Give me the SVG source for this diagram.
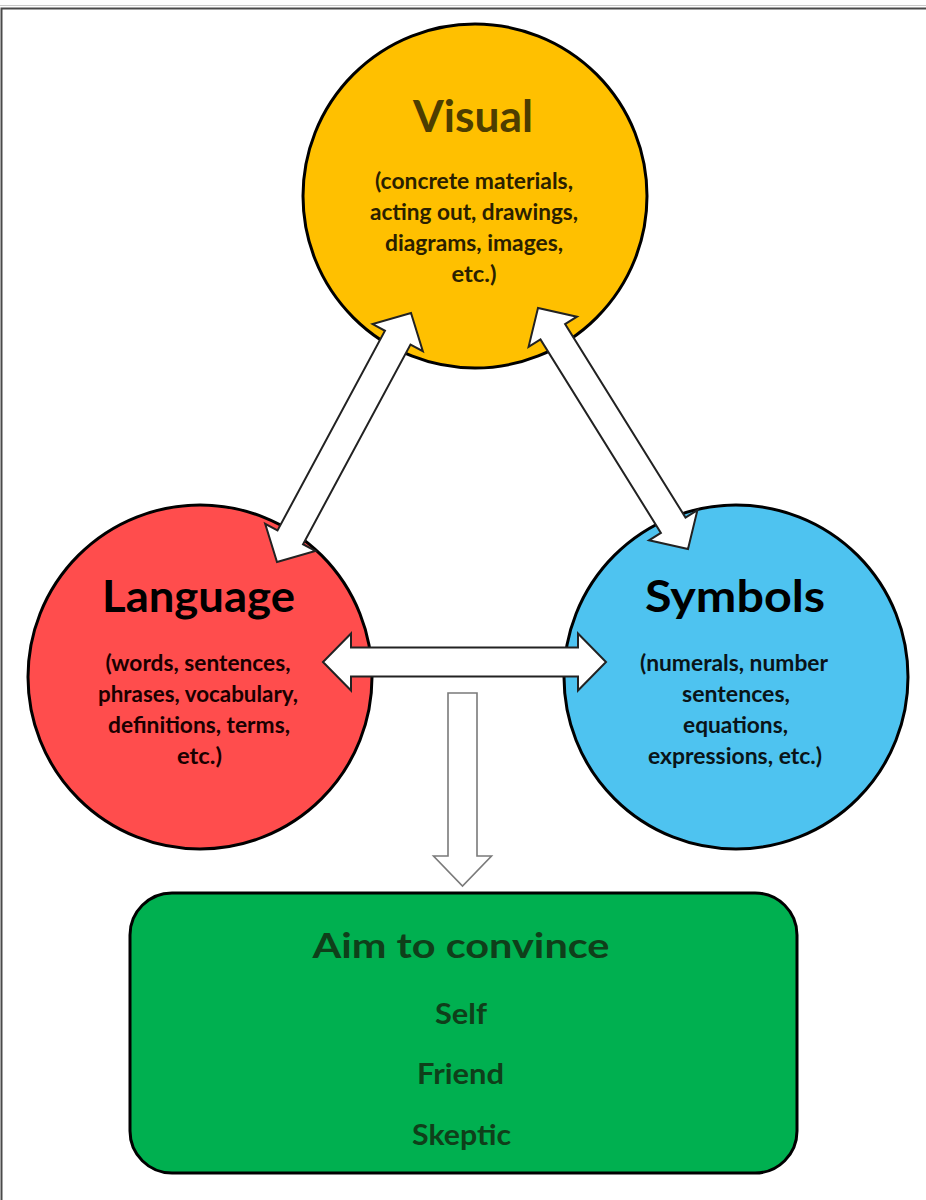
<svg xmlns="http://www.w3.org/2000/svg" width="926" height="1200" viewBox="0 0 926 1200">
<style>
.circ{stroke:#000;stroke-width:3}
.t{font-family:Lato,"Open Sans","Liberation Sans",sans-serif;font-weight:700;text-anchor:middle}
.title{font-size:44px}
.sub{font-size:22px}
.arrow{fill:#fff;stroke:#222;stroke-width:2;stroke-linejoin:miter}
.g{fill:#0f3f1a}
</style>
<rect x="0" y="0" width="926" height="1200" fill="#fff"/>
<g id="frame">
<line x1="0" y1="5.5" x2="926" y2="5.5" stroke="#c8c8c8" stroke-width="1"/>
<path d="M1.5,1200 V8.5 H926" fill="none" stroke="#4a4a4a" stroke-width="2"/>
</g>
<g id="visual">
<circle class="circ" cx="475" cy="196" r="172" fill="#ffc000"/>
<text class="t title" x="473" y="132" fill="#4d3d00" textLength="120" lengthAdjust="spacingAndGlyphs">Visual</text>
<g class="t sub" fill="#2a2000">
<text x="474" y="189" textLength="198" lengthAdjust="spacingAndGlyphs">(concrete materials,</text>
<text x="474" y="220" textLength="208" lengthAdjust="spacingAndGlyphs">acting out, drawings,</text>
<text x="474" y="251" textLength="178" lengthAdjust="spacingAndGlyphs">diagrams, images,</text>
<text x="474" y="282" textLength="45" lengthAdjust="spacingAndGlyphs">etc.)</text>
</g>
</g>
<g id="language">
<circle class="circ" cx="200" cy="677" r="172" fill="#ff4d4d"/>
<text class="t title" x="198.5" y="612" fill="#000" textLength="193" lengthAdjust="spacingAndGlyphs">Language</text>
<g class="t sub" fill="#1a0000">
<text x="198" y="671" textLength="185" lengthAdjust="spacingAndGlyphs">(words, sentences,</text>
<text x="198" y="702" textLength="200" lengthAdjust="spacingAndGlyphs">phrases, vocabulary,</text>
<text x="199" y="733" textLength="182" lengthAdjust="spacingAndGlyphs">definitions, terms,</text>
<text x="199.5" y="764" textLength="45" lengthAdjust="spacingAndGlyphs">etc.)</text>
</g>
</g>
<g id="symbols">
<circle class="circ" cx="736" cy="677" r="172" fill="#4ec3f0"/>
<text class="t title" x="735" y="612" fill="#000" textLength="180" lengthAdjust="spacingAndGlyphs">Symbols</text>
<g class="t sub" fill="#0a1418">
<text x="734" y="671" textLength="188" lengthAdjust="spacingAndGlyphs">(numerals, number</text>
<text x="736" y="702" textLength="108" lengthAdjust="spacingAndGlyphs">sentences,</text>
<text x="735.5" y="733" textLength="105" lengthAdjust="spacingAndGlyphs">equations,</text>
<text x="735" y="764" textLength="174" lengthAdjust="spacingAndGlyphs">expressions, etc.)</text>
</g>
</g>
<g id="connectors">
<polygon class="arrow" points="277,562 315.36,550.86 303.04,544.22 410.5,344.52 422.82,351.16 411,313 372.64,324.14 384.96,330.78 277.5,530.48 265.18,523.84"/>
<polygon class="arrow" points="538,308 528.6,346.83 540.48,339.43 660.9,532.89 649.02,540.29 688,549 697.4,510.17 685.52,517.57 565.1,324.11 576.98,316.71"/>
<polygon class="arrow" stroke="#333" stroke-width="1.6" points="323,662 351,690.5 351,676.5 578,676.5 578,690.5 606,662 578,633.5 578,647.5 351,647.5 351,633.5"/>
<polygon class="arrow" style="stroke:#7a7a7a;stroke-width:1.6" points="448,693 477,693 477,856 491.5,856 462.5,886 433.5,856 448,856"/>
</g>
<g id="convince">
<rect x="130" y="893" width="667" height="280" rx="42" ry="42" fill="#00b050" stroke="#000" stroke-width="3"/>
<text class="t g" x="461" y="958" font-size="35" textLength="297" lengthAdjust="spacingAndGlyphs">Aim to convince</text>
<text class="t g" x="461" y="1024" font-size="28" textLength="52" lengthAdjust="spacingAndGlyphs">Self</text>
<text class="t g" x="460.5" y="1084" font-size="28" textLength="87" lengthAdjust="spacingAndGlyphs">Friend</text>
<text class="t g" x="461.5" y="1145" font-size="28" textLength="99" lengthAdjust="spacingAndGlyphs">Skeptic</text>
</g>
</svg>
